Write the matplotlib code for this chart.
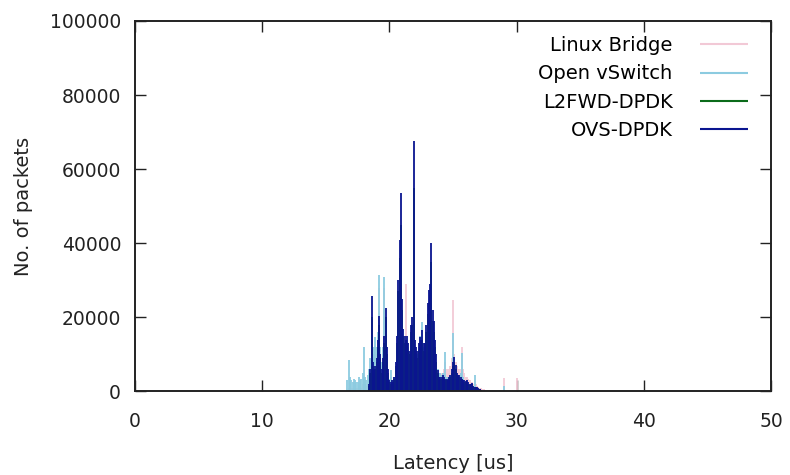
import numpy as np
import matplotlib.pyplot as plt

# === Histogram bins (latency in us) ===
latency = np.round(np.arange(16.5, 30.05, 0.1), 1)

# === Packet counts per bin, in thousands ===
linux_bridge = [
    0, 0, 0, 1, 2, 1, 1, 0.5, 1, 1,
    1, 1.5, 1, 1, 2, 4, 2, 1.5, 2, 3,
    5, 8, 7, 9, 12, 10, 14, 28, 10, 7,
    10, 28, 15, 8, 5.8, 3, 4, 3, 2.5, 3,
    6, 10, 20, 25, 30, 18, 13, 12, 29, 12,
    10, 9, 12, 14, 25, 11, 10, 9, 10, 12,
    12, 15, 11, 10, 12, 14, 16, 18, 22, 15,
    13, 10, 8, 6, 5, 4.5, 5, 5, 6, 8,
    6, 5, 6, 7, 9, 24.7, 10, 8, 7, 6,
    6, 6, 12, 6, 5, 4, 4, 3.5, 3, 2.5,
    2.5, 2, 3, 2, 1.5, 1.2, 1, 1, 0.8, 0.6,
    0.5, 0.4, 0.3, 0.3, 0.2, 0.2, 0, 0, 0, 0,
    0, 0, 0, 0, 0, 3.6, 0, 0, 0, 0,
    0, 0, 0, 0, 0, 3.6,
]
open_vswitch = [
    0, 0, 3, 8.5, 4, 3, 2.5, 3.5, 3, 2.5,
    2.5, 4, 3, 3.5, 5, 12, 4, 3, 4.5, 6,
    9, 12, 10, 12, 14.8, 12, 16, 31.4, 12, 8,
    12, 31, 18, 10, 5, 3.5, 5.8, 3, 3, 4,
    7, 12, 22, 28, 35, 20, 14, 13, 12, 14,
    12, 10, 14, 16, 30, 12, 11, 10, 12, 15,
    14, 18.8, 12, 12, 14, 16, 18, 20, 24, 16,
    14, 11, 8, 6, 5, 5, 4.5, 5, 4.5, 10.7,
    4, 3.5, 4, 4.5, 6, 15.8, 8, 6, 5, 4,
    4, 5, 10.4, 4, 3, 2.5, 3, 2.5, 2, 2,
    2, 1.5, 4.5, 1.2, 1, 0.8, 0.6, 0.5, 0.4, 0.3,
    0.3, 0.2, 0.2, 0.2, 0, 0, 0, 0, 0, 0,
    0, 0, 0, 0, 0, 1.5, 0, 0, 0, 0,
    0, 0, 0, 0, 0, 0,
]
l2fwd_dpdk = [
    0, 0, 0, 0, 0, 0, 0, 0, 0, 0,
    0, 0, 0, 0, 0, 0, 0, 0, 0, 1.5,
    5, 20, 7, 5, 6, 8, 12, 18, 9, 5,
    8, 13, 20, 10, 5, 2.5, 2, 2.5, 2, 3.5,
    7, 13, 27, 36, 45, 22, 15, 13, 12, 13,
    11, 10, 16, 18, 55, 12, 10, 9, 11, 12,
    12, 14, 11, 11, 16, 21, 24, 26, 35, 19,
    16, 12, 8, 5, 3.5, 3.5, 3.5, 4, 3.5, 3,
    3, 2.5, 3.5, 4, 5, 7, 8, 6, 4.5, 4,
    4, 3.5, 3, 2.5, 2.5, 2.5, 2.5, 2, 1.8, 1.8,
    2, 1.3, 1.1, 1, 0.9, 0.8, 0.6, 0.3, 0, 0,
    0, 0, 0, 0, 0, 0, 0, 0, 0, 0,
    0, 0, 0, 0, 0, 0, 0, 0, 0, 0,
    0, 0, 0, 0, 0, 0,
]
ovs_dpdk = [
    0, 0, 0, 0, 0, 0, 0, 0, 0, 0,
    0, 0, 0, 0, 0, 0, 0, 0, 0, 2,
    6, 25.8, 8, 6, 7, 9, 14, 20.5, 10, 6,
    9, 15, 22.5, 12, 6, 3, 2.5, 3, 2.5, 4,
    8, 15, 30, 41, 53.5, 25, 17, 15, 14, 15,
    13, 11, 18, 20, 67.7, 14, 12, 11, 13, 14.8,
    14, 16.6, 13, 13, 18, 24, 27.4, 29, 40, 22,
    19, 14, 10, 5.8, 4, 4, 4, 4.5, 4, 3.5,
    3.5, 3, 4, 4.5, 6, 8, 9.4, 7.2, 5, 4.5,
    4.5, 4, 3.5, 3, 3, 2.8, 3, 2.5, 2, 2,
    2.3, 1.5, 1.3, 1.2, 1.1, 1.0, 0.8, 0.4, 0, 0,
    0, 0, 0, 0, 0, 0, 0, 0, 0, 0,
    0, 0, 0, 0, 0, 0, 0, 0, 0, 0,
    0, 0, 0, 0, 0, 0,
]

series = [
    ("Linux Bridge", linux_bridge, "#f2c9d6"),
    ("Open vSwitch", open_vswitch, "#8ccbe0"),
    ("L2FWD-DPDK", l2fwd_dpdk, "#0b6b1a"),
    ("OVS-DPDK", ovs_dpdk, "#0a1590"),
]

# === Plot ===
fig = plt.figure(figsize=(7.9, 4.75), dpi=100)
ax = fig.add_axes([0.1709, 0.1758, 0.8050, 0.7800])

for label, counts, color in series:
    ax.vlines(latency, 0, np.array(counts) * 1000, colors=color, lw=1.3, label=label)

ax.set_xlim(0, 50)
ax.set_ylim(0, 100000)
ax.set_xticks(np.arange(0, 51, 10))
ax.set_yticks(np.arange(0, 100001, 20000))
ax.tick_params(direction="in", length=8, width=1, top=True, right=True,
               labelsize=13.5, colors="#222222")
ax.tick_params(axis="x", pad=14.5)
ax.tick_params(axis="y", pad=10)
for s in ax.spines.values():
    s.set_linewidth(1.4)
    s.set_color("#222222")

ax.set_xlabel("Latency [us]", fontsize=14, labelpad=17, color="#222222")
ax.set_ylabel("No. of packets", fontsize=14, labelpad=12, color="#222222")

leg = ax.legend(loc="upper right", bbox_to_anchor=(0.991, 1.006), frameon=False,
                markerfirst=False, fontsize=14, handlelength=2.47,
                handletextpad=1.39, labelspacing=0.47)
for line in leg.get_lines():
    line.set_linewidth(1.5)

plt.savefig("out.png", dpi=100)
